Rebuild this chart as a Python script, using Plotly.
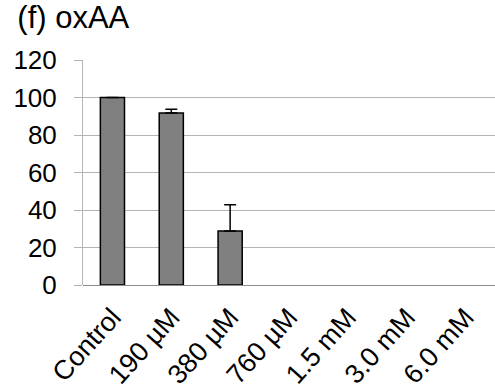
import plotly.graph_objects as go

categories = ["Control", "190 µM", "380 µM", "760 µM", "1.5 mM", "3.0 mM", "6.0 mM"]
values = [100, 91.8, 28.8, 0, 0, 0, 0]
errors = [0, 2.0, 14.0, 0, 0, 0, 0]
y_ticks = [0, 20, 40, 60, 80, 100, 120]

bar_vals = [v if v > 0 else None for v in values]
err_plot = [e if e > 0 else None for e in errors]

fig = go.Figure()
fig.add_trace(go.Bar(
    x=categories, y=bar_vals,
    width=0.41,
    marker=dict(color="#808080", line=dict(color="#000000", width=1.5)),
    error_y=dict(type="data", array=err_plot, symmetric=False, arrayminus=[0]*len(errors),
                 color="#000000", thickness=1.5, width=6, visible=True),
))
fig.update_layout(
    width=495, height=390,
    margin=dict(l=83, r=0, t=60, b=105),
    paper_bgcolor="white", plot_bgcolor="white",
    font=dict(family="Liberation Sans, Arial", size=26, color="#000000"),
    showlegend=False,
    bargap=0.59,
    title=dict(text="(f) oxAA", x=0.035, xanchor="left", y=0.985, yanchor="top",
               font=dict(size=31, family="Liberation Sans, Arial")),
)
fig.update_xaxes(tickangle=-48, showgrid=False, showline=False, ticks="",
                 tickfont=dict(size=27), automargin=False, ticklabelstandoff=10)
fig.update_yaxes(range=[0, 120], tickvals=y_ticks, showgrid=True, gridcolor="#b4b4b4",
                 gridwidth=1, showline=True, linecolor="#b4b4b4", linewidth=1,
                 ticks="outside", ticklen=8, tickcolor="#b4b4b4",
                 zeroline=True, zerolinecolor="#8c8c8c", zerolinewidth=1,
                 tickfont=dict(size=26), ticklabelstandoff=12, automargin=False)
fig.write_html("out.html")
